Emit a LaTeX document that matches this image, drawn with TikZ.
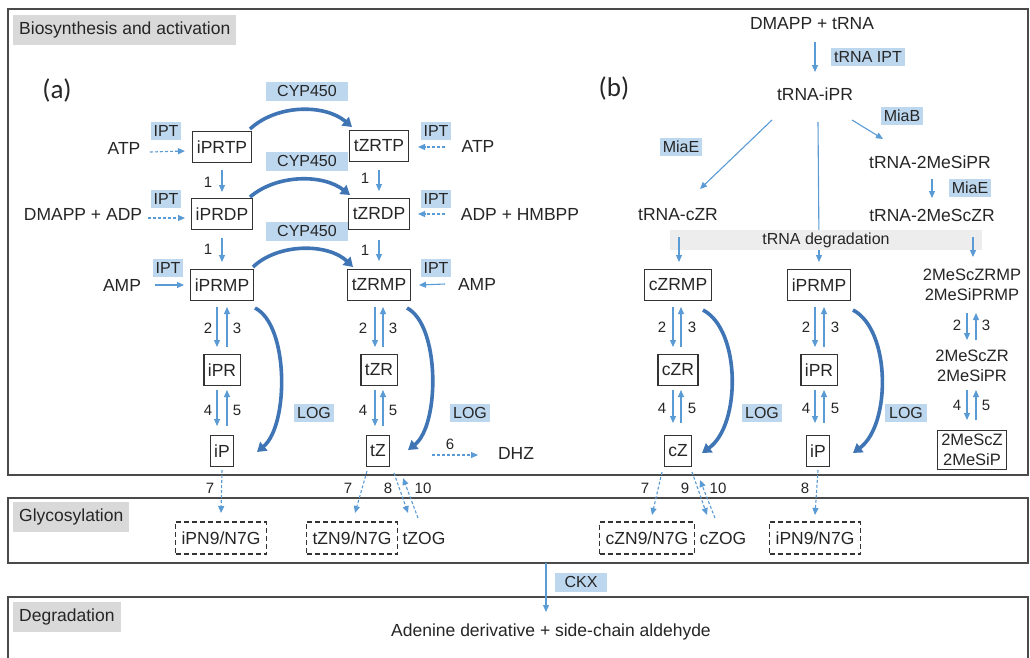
\documentclass[tikz,border=0pt]{standalone}
\usepackage{fontspec}
\setmainfont{Liberation Sans}
\newfontfamily\calibfont{Carlito}
\usetikzlibrary{calc,arrows.meta}
\definecolor{txt}{HTML}{262626}
\definecolor{thinb}{HTML}{5B9BD5}
\definecolor{thickb}{HTML}{3F74B5}
\definecolor{labb}{HTML}{BDD7EE}
\definecolor{ttlg}{HTML}{D9D9D9}
\definecolor{bandg}{HTML}{EDEDED}
\definecolor{frm}{HTML}{4A4A4A}
\definecolor{boxc}{HTML}{333333}
\newcommand{\mfs}{\fontsize{17.5}{20}\selectfont}
\newcommand{\nfs}{\fontsize{15}{17}\selectfont}
\newcommand{\lfs}{\fontsize{16}{18}\selectfont}
\newcommand{\rfs}{\fontsize{16.5}{20}\selectfont}
\begin{document}
\begin{tikzpicture}[x=1pt,y=-1pt,
  every node/.style={text=txt,font=\mfs,inner sep=0pt},
  mol/.style={draw=boxc,line width=1.2pt,minimum height=31pt,inner xsep=4pt},
  dmol/.style={draw=boxc,line width=1.2pt,dash pattern=on 5pt off 3pt,minimum height=32pt,inner xsep=6pt},
  enz/.style={fill=labb,font=\lfs,minimum height=18pt,inner xsep=3pt},
  num/.style={font=\nfs},
  ttl/.style={fill=ttlg,anchor=north west,minimum height=30pt,inner xsep=6pt},
  frame/.style={draw=frm,line width=1.8pt},
  tarr/.style={draw=thinb,line width=1.1pt,-{Triangle[length=7pt,width=6pt]}},
  tline/.style={draw=thinb,line width=1.1pt},
  dsh/.style={dash pattern=on 3pt off 2pt},
  karr/.style={draw=thickb,line width=3.6pt,-{Triangle[length=9pt,width=11pt]}},
  big/.style={font=\calibfont\fontsize{27}{30}\selectfont}
]
\useasboundingbox (0,0) rectangle (1030,657);
\clip (0,0) rectangle (1030,657);
\fill[white] (0,0) rectangle (1030,657);

% frames
\draw[frame] (8,9) rectangle (1028,475);
\draw[frame] (8,498) rectangle (1028,563);
\draw[frame] (8,597) rectangle (1028,700);
\node[ttl] (t1) at (13,15) {Biosynthesis and activation};
\node[ttl] (t2) at (13,502) {Glycosylation};
\node[ttl] (t3) at (13,602) {Degradation};

% ---------------- panel (a)
\node[big] (pa) at (57,90) {(a)};
\node[mol] (iprtp) at (222,147) {iPRTP};
\node[mol] (iprdp) at (222,214) {iPRDP};
\node[mol] (iprmp) at (222,285) {iPRMP};
\node[mol] (ipr) at (222,370) {iPR};
\node[mol] (ip) at (222,451) {iP};
\node[mol] (tzrtp) at (379,146) {tZRTP};
\node[mol] (tzrdp) at (379,214) {tZRDP};
\node[mol] (tzrmp) at (379,285) {tZRMP};
\node[mol] (tzr) at (379,370) {tZR};
\node[mol] (tz) at (378,451) {tZ};

\node (atpl) at (124,148) {ATP};
\node (dmadp) at (83,214) {DMAPP + ADP};
\node (ampl) at (122,285) {AMP};
\node (atpr) at (478,146) {ATP};
\node (adph) at (520,214) {ADP + HMBPP};
\node (ampr) at (477,284) {AMP};
\node[enz] (ipt1) at (166,131) {IPT};
\node[enz] (ipt2) at (166,199) {IPT};
\node[enz] (ipt3) at (168,268) {IPT};
\node[enz] (ipt4) at (436,131) {IPT};
\node[enz] (ipt5) at (436,199) {IPT};
\node[enz] (ipt6) at (436,268) {IPT};
\node[enz,minimum width=82pt,minimum height=19pt] (cyp1) at (307,91) {CYP450};
\node[enz,minimum width=82pt,minimum height=19pt] (cyp2) at (307,161) {CYP450};
\node[enz,minimum width=82pt,minimum height=19pt] (cyp3) at (307,231) {CYP450};

\draw[tarr,dsh] ($(atpl)+(26,4)$) -- ($(iprtp)+(-37,4)$);
\draw[tarr,dsh] ($(dmadp)+(65,4)$) -- ($(iprdp)+(-37,4)$);
\draw[tarr] ($(ampl)+(33,0)$) -- ($(iprmp)+(-38,0)$);
\draw[tarr,dsh] ($(atpr)+(-33,1)$) -- ($(tzrtp)+(39,1)$);
\draw[tarr,dsh] ($(adph)+(-75,0)$) -- ($(tzrdp)+(39,0)$);
\draw[tarr] ($(ampr)+(-32,0)$) -- ($(tzrmp)+(40,0)$);

\draw[tarr] ($(iprtp)+(0,23)$) -- ($(iprdp)+(0,-22)$);
\draw[tarr] ($(iprdp)+(0,24)$) -- ($(iprmp)+(0,-23)$);
\draw[tarr] ($(tzrtp)+(0,24)$) -- ($(tzrdp)+(0,-23)$);
\draw[tarr] ($(tzrdp)+(0,26)$) -- ($(tzrmp)+(0,-24)$);
\node[num] (o1) at (208,182) {1};
\node[num] (o2) at (208,249) {1};
\node[num] (o3) at (365,178) {1};
\node[num] (o4) at (365,250) {1};

\draw[karr] ($(iprtp)+(28,-18)$) .. controls (277,104) and (325,104) .. ($(tzrtp)+(-27,-19)$);
\draw[karr] ($(iprdp)+(28,-17)$) .. controls (277,174) and (323,174) .. ($(tzrdp)+(-29,-19)$);
\draw[karr] ($(iprmp)+(31,-18)$) .. controls (278,243) and (328,243) .. ($(tzrmp)+(-26,-18)$);

\draw[tarr] ($(iprmp)+(-5,22)$) -- ($(ipr)+(-5,-23)$);
\draw[tarr] ($(ipr)+(5,-23)$) -- ($(iprmp)+(5,22)$);
\draw[tarr] ($(ipr)+(-5,20)$) -- ($(ip)+(-5,-25)$);
\draw[tarr] ($(ip)+(5,-25)$) -- ($(ipr)+(5,20)$);
\draw[tarr] ($(tzrmp)+(-4,22)$) -- ($(tzr)+(-4,-23)$);
\draw[tarr] ($(tzr)+(4,-23)$) -- ($(tzrmp)+(4,22)$);
\draw[tarr] ($(tzr)+(-4,20)$) -- ($(tz)+(-3,-25)$);
\draw[tarr] ($(tz)+(5,-25)$) -- ($(tzr)+(4,20)$);
\node[num] (n2a) at (208,328) {2};
\node[num] (n3a) at (237,328) {3};
\node[num] (n4a) at (208,410) {4};
\node[num] (n5a) at (237,410) {5};
\node[num] (n2b) at (363,328) {2};
\node[num] (n3b) at (393,328) {3};
\node[num] (n4b) at (363,410) {4};
\node[num] (n5b) at (393,410) {5};

\draw[karr] ($(iprmp)+(33,23)$) .. controls (289,325) and (289,425) .. ($(ip)+(35,1)$);
\draw[karr] ($(tzrmp)+(28,23)$) .. controls (440,325) and (440,425) .. ($(tz)+(30,-1)$);
\node[enz,minimum width=38pt] (log1) at (314,413) {LOG};
\node[enz,minimum width=38pt] (log2) at (470,413) {LOG};

\node (dhz) at (516,453) {DHZ};
\draw[tarr,dsh] ($(tz)+(54,4)$) -- ($(dhz)+(-38,2)$);
\node[num] (n6) at (450,444) {6};

% glycosylation (a)
\node[dmol] (ipn9a) at (221,538) {iPN9/N7G};
\node[dmol] (tzn9) at (352,538) {tZN9/N7G};
\node (tzog) at (424,538) {tZOG};
\draw[tarr,dsh] ($(ip)+(0,19)$) -- ($(ipn9a)+(0,-25)$);
\draw[tarr,dsh] ($(tz)+(-11,20)$) -- ($(tzn9)+(3,-25)$);
\draw[tarr,dsh] ($(tz)+(16,22)$) -- ($(tzog)+(-16,-25)$);
\draw[tarr,dsh] ($(tzog)+(-6,-20)$) -- ($(tz)+(25,27)$);
\node[num] (n7a) at (210,488) {7};
\node[num] (n7b) at (348,488) {7};
\node[num] (n8a) at (388,488) {8};
\node[num] (n10a) at (423,488) {10};

% ---------------- panel (b)
\node[big] (pb) at (614,88) {(b)};
\node (dmtrna) at (812,24) {DMAPP + tRNA};
\node (trnaipr) at (815,94) {tRNA-iPR};
\node[enz] (tiptl) at (868,57) {tRNA IPT};
\node[enz] (miab) at (902,116) {MiaB};
\node (tmsipr) at (930,162) {tRNA-2MeSiPR};
\node[enz] (miae2) at (970,188) {MiaE};
\node (tmsczr) at (932,215) {tRNA-2MeScZR};
\node[enz] (miae1) at (681,147) {MiaE};
\node (tczr) at (678,215) {tRNA-cZR};

\draw[tarr] ($(dmtrna)+(3,18)$) -- ($(trnaipr)+(0,-22)$);
\draw[tarr] ($(trnaipr)+(37,26)$) -- ($(tmsipr)+(-47,-23)$);
\draw[tarr] ($(trnaipr)+(-43,26)$) -- ($(tczr)+(22,-26)$);
\draw[tarr] ($(tmsipr)+(2,17)$) -- ($(tmsczr)+(0,-17)$);

\node[mol] (czrmp) at (678,285) {cZRMP};
\node[mol] (iprmpb) at (819,285) {iPRMP};
\node[align=center,font=\rfs] (msrmp) at (972,285) {2MeScZRMP\\2MeSiPRMP};
\node[mol] (czr) at (678,370) {cZR};
\node[mol] (iprb) at (819,370) {iPR};
\node[align=center,font=\rfs] (msr) at (972,366) {2MeScZR\\2MeSiPR};
\node[mol] (cz) at (678,451) {cZ};
\node[mol] (ipb) at (818,451) {iP};
\node[mol,align=center,font=\rfs,inner ysep=4pt] (msb) at (972,450) {2MeScZ\\2MeSiP};

\draw[tline] ($(trnaipr)+(3,28)$) -- ($(iprmpb)+(0,-40)$);
\node[fill=bandg,font=\lfs,minimum width=312pt,minimum height=20pt] (tdeg) at (826,240) {tRNA degradation};
\draw[tarr] ($(tczr)+(1,22)$) -- ($(czrmp)+(1,-23)$);
\draw[tarr] ($(iprmpb)+(0,-35)$) -- ($(iprmpb)+(0,-23)$);
\draw[tarr] ($(tmsczr)+(41,22)$) -- ($(msrmp)+(1,-28)$);

\draw[tarr] ($(czrmp)+(-5,22)$) -- ($(czr)+(-5,-23)$);
\draw[tarr] ($(czr)+(3,-23)$) -- ($(czrmp)+(3,22)$);
\draw[tarr] ($(czr)+(-5,20)$) -- ($(cz)+(-5,-28)$);
\draw[tarr] ($(cz)+(3,-28)$) -- ($(czr)+(3,20)$);
\draw[tarr] ($(iprmpb)+(-4,22)$) -- ($(iprb)+(-4,-23)$);
\draw[tarr] ($(iprb)+(5,-23)$) -- ($(iprmpb)+(5,22)$);
\draw[tarr] ($(iprb)+(-4,20)$) -- ($(ipb)+(-3,-28)$);
\draw[tarr] ($(ipb)+(6,-28)$) -- ($(iprb)+(5,20)$);
\draw[tarr] ($(msrmp)+(-5,28)$) -- ($(msr)+(-5,-26)$);
\draw[tarr] ($(msr)+(4,-26)$) -- ($(msrmp)+(4,28)$);
\draw[tarr] ($(msr)+(-5,24)$) -- ($(msb)+(-5,-30)$);
\draw[tarr] ($(msb)+(4,-30)$) -- ($(msr)+(4,24)$);
\node[num] (m2a) at (662,327) {2};
\node[num] (m3a) at (692,327) {3};
\node[num] (m4a) at (662,408) {4};
\node[num] (m5a) at (692,408) {5};
\node[num] (m2b) at (806,327) {2};
\node[num] (m3b) at (835,327) {3};
\node[num] (m4b) at (806,408) {4};
\node[num] (m5b) at (835,408) {5};
\node[num] (m2c) at (957,325) {2};
\node[num] (m3c) at (986,325) {3};
\node[num] (m4c) at (957,405) {4};
\node[num] (m5c) at (986,405) {5};

\draw[karr] ($(czrmp)+(25,25)$) .. controls (741,330) and (741,425) .. ($(cz)+(24,2)$);
\draw[karr] ($(iprmpb)+(34,25)$) .. controls (891,330) and (891,425) .. ($(ipb)+(35,2)$);
\node[enz,minimum width=40pt] (log3) at (762,413) {LOG};
\node[enz,minimum width=42pt] (log4) at (906,413) {LOG};

% glycosylation (b)
\node[dmol] (czn9) at (647,538) {cZN9/N7G};
\node (czog) at (723,538) {cZOG};
\node[dmol] (ipn9b) at (815,538) {iPN9/N7G};
\draw[tarr,dsh] ($(cz)+(-16,21)$) -- ($(czn9)+(5,-23)$);
\draw[tarr,dsh] ($(cz)+(14,21)$) -- ($(czog)+(-16,-23)$);
\draw[tarr,dsh] ($(czog)+(-8,-20)$) -- ($(cz)+(22,29)$);
\draw[tarr,dsh] ($(ipb)+(0,19)$) -- ($(ipn9b)+(0,-23)$);
\node[num] (q7) at (645,488) {7};
\node[num] (q9) at (685,488) {9};
\node[num] (q10) at (718,488) {10};
\node[num] (q8) at (805,488) {8};

% degradation
\node (aden) at (551,632) {Adenine derivative + side-chain aldehyde};
\node[enz,minimum width=52pt,minimum height=19pt] (ckx) at (581,582) {CKX};
\draw[tarr] ($(aden)+(-5,-69)$) -- ($(aden)+(-5,-20)$);
\end{tikzpicture}
\end{document}
